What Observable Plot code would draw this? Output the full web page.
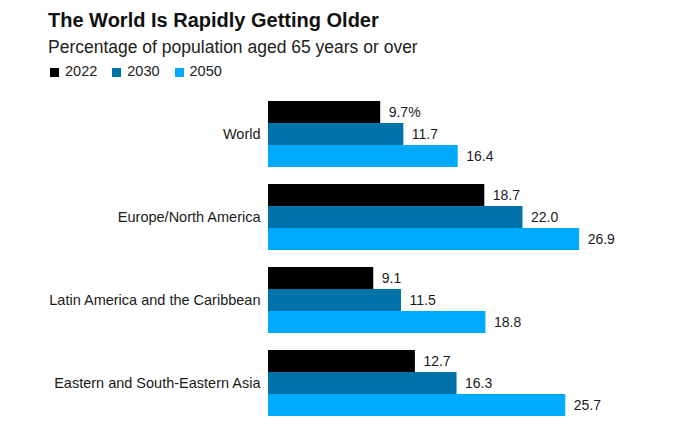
<!DOCTYPE html>
<html>
<head>
<meta charset="utf-8">
<script src="https://cdn.jsdelivr.net/npm/d3@7"></script>
<script src="https://cdn.jsdelivr.net/npm/@observablehq/plot@0.6"></script>
<style>
  html, body { margin: 0; padding: 0; background: #fff; }
  body { width: 680px; height: 433px; overflow: hidden; font-family: "Liberation Sans", Arial, sans-serif; color: #1a1a1a; }
  #header { height: 85px; padding-left: 48px; box-sizing: border-box; }
  #title { font-size: 20px; font-weight: bold; line-height: 24px; padding-top: 8px; color: #111; }
  #subtitle { font-size: 17.5px; line-height: 20px; margin-top: 5px; color: #222; }
  #legend { font-size: 14.5px; line-height: 16px; margin-top: 6.4px; display: flex; align-items: center; color: #222; }
  #legend .item { display: flex; align-items: center; margin-right: 13px; }
  #legend .sw { width: 9px; height: 9px; margin-right: 6px; display: inline-block; margin-left: 2px; margin-top: 3px; }
  #chart svg { display: block; }
</style>
</head>
<body>
<div id="header">
  <div id="title">The World Is Rapidly Getting Older</div>
  <div id="subtitle">Percentage of population aged 65 years or over</div>
  <div id="legend"></div>
</div>
<div id="chart"></div>
<script>
const regions = ["World", "Europe/North America", "Latin America and the Caribbean", "Eastern and South-Eastern Asia"];
const years = ["2022", "2030", "2050"];
const v2022 = [9.7, 18.7, 9.1, 12.7];
const v2030 = [11.7, 22.0, 11.5, 16.3];
const v2050 = [16.4, 26.9, 18.8, 25.7];
const colors = ["#000000", "#0072aa", "#00aaff"];

const series = [v2022, v2030, v2050];
const data = [];
regions.forEach((r, i) => {
  years.forEach((y, j) => {
    const v = series[j][i];
    data.push({region: r, year: y, value: v, label: (i === 0 && j === 0) ? v.toFixed(1) + "%" : v.toFixed(1)});
  });
});

// legend
const legend = document.getElementById("legend");
years.forEach((y, j) => {
  const it = document.createElement("span");
  it.className = "item";
  const sw = document.createElement("span");
  sw.className = "sw";
  sw.style.background = colors[j];
  it.appendChild(sw);
  it.appendChild(document.createTextNode(y));
  legend.appendChild(it);
});

const chart = Plot.plot({
  width: 680,
  height: 348,
  marginLeft: 268,
  marginRight: 65,
  marginTop: 15,
  marginBottom: 16,
  style: {fontFamily: "'Liberation Sans', Arial, sans-serif", fontSize: "13.5px", color: "#1a1a1a", background: "#fff"},
  x: {domain: [0, 30], axis: null},
  y: {domain: years, padding: 0, axis: null},
  fy: {domain: regions, paddingInner: 0.204, paddingOuter: 0, label: null},
  color: {domain: years, range: colors},
  marks: [
    Plot.barX(data, {x: "value", y: "year", fy: "region", fill: "year"}),
    Plot.text(data, {x: "value", y: "year", fy: "region", text: "label", textAnchor: "start", dx: 8, fill: "#1a1a1a", fontSize: 14}),
    Plot.axisFy({anchor: "left", label: null, tickSize: 0, tickPadding: 8, fontSize: 14.5})
  ]
});
document.getElementById("chart").appendChild(chart);
</script>
</body>
</html>
